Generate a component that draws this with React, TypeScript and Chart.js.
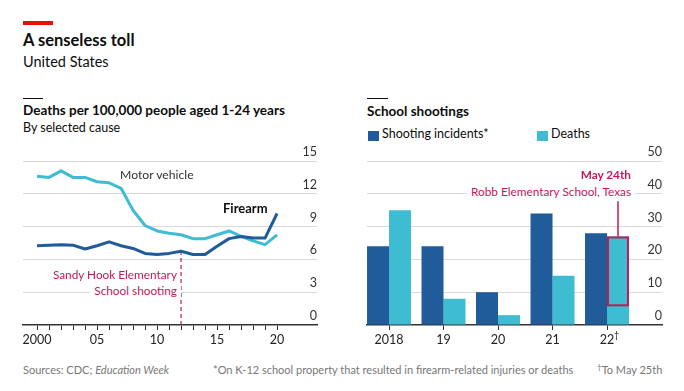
import React, { useEffect, useRef } from 'react';
import { Chart, registerables } from 'chart.js';

Chart.register(...registerables);

// ---- Data ----
const years = [2000, 2001, 2002, 2003, 2004, 2005, 2006, 2007, 2008, 2009, 2010, 2011, 2012, 2013, 2014, 2015, 2016, 2017, 2018, 2019, 2020];
const motorVehicle = [13.6, 13.5, 14.1, 13.5, 13.5, 13.1, 13.0, 12.5, 10.5, 9.1, 8.6, 8.4, 8.25, 7.9, 7.9, 8.25, 8.6, 8.1, 7.7, 7.35, 8.25];
const firearm = [7.25, 7.3, 7.35, 7.3, 6.95, 7.25, 7.6, 7.25, 7.0, 6.55, 6.45, 6.55, 6.75, 6.45, 6.45, 7.2, 7.9, 8.1, 7.95, 7.95, 10.2];
const leftYTicks = [0, 3, 6, 9, 12, 15];
const leftXLabelYears = [2000, 2005, 2010, 2015, 2020];
const leftXLabels = ['2000', '05', '10', '15', '20'];
const sandyHookYear = 2012;

const schoolYears = [2018, 2019, 2020, 2021, 2022];
const schoolYearLabels = ['2018', '19', '20', '21', '22'];
const incidents = [24, 24, 10, 34, 28];
const deaths = [35, 8, 3, 15, 27];
const robbDeaths = 21; // highlighted part of the 2022 deaths bar
const rightYTicks = [0, 10, 20, 30, 40, 50];

// ---- Styles ----
const FONT = "Lato, 'Noto Sans', sans-serif";
const DARK = '#1f5c99';
const LIGHT = '#3ebcd2';
const CRIMSON = '#c3185a';
const GRID = '#d9d9d9';
const AXIS = '#333333';

const sandyHookPlugin = {
  id: 'sandyHook',
  afterDatasetsDraw(chart: any) {
    const { ctx, scales } = chart;
    const x = scales.x.getPixelForValue(sandyHookYear);
    const idx = years.indexOf(sandyHookYear);
    const yTop = scales.y.getPixelForValue(firearm[idx]);
    const yBot = scales.y.getPixelForValue(0);
    ctx.save();
    ctx.strokeStyle = CRIMSON;
    ctx.lineWidth = 1.2;
    ctx.setLineDash([4, 3]);
    ctx.beginPath();
    ctx.moveTo(x, yBot);
    ctx.lineTo(x, yTop + 2);
    ctx.stroke();
    ctx.restore();
  },
};

const robbPlugin = {
  id: 'robb',
  afterDatasetsDraw(chart: any) {
    const { ctx, scales } = chart;
    const bar = chart.getDatasetMeta(1).data[4];
    const { x, width } = bar.getProps(['x', 'width'], true);
    const top = scales.y.getPixelForValue(deaths[4]);
    const bottom = scales.y.getPixelForValue(deaths[4] - robbDeaths);
    ctx.save();
    ctx.strokeStyle = CRIMSON;
    ctx.lineWidth = 2;
    ctx.strokeRect(x - width / 2 + 1, top + 1, width - 2, bottom - top - 1);
    ctx.lineWidth = 1.5;
    ctx.beginPath();
    ctx.moveTo(x, scales.y.getPixelForValue(37.7));
    ctx.lineTo(x, top);
    ctx.stroke();
    ctx.restore();
  },
};

function yAxis(max: number, ticks: number[]) {
  return {
    position: 'right',
    min: 0,
    max,
    afterBuildTicks: (s: any) => {
      s.ticks = ticks.map((v) => ({ value: v }));
    },
    afterFit: (s: any) => {
      s.width = 0;
    },
    grid: {
      color: (c: any) => (c.tick && c.tick.value === 0 ? 'rgba(0,0,0,0)' : GRID),
      drawTicks: false,
      lineWidth: 1,
    },
    border: { display: false },
    ticks: {
      mirror: true,
      padding: 0,
      labelOffset: -9,
      color: '#333',
      font: { family: FONT, size: 12.5 },
    },
  };
}

function LeftChart() {
  const ref = useRef<HTMLCanvasElement>(null);
  useEffect(() => {
    const chart = new Chart(ref.current as HTMLCanvasElement, {
      type: 'line',
      data: {
        datasets: [
          {
            label: 'Firearm',
            data: years.map((y, i) => ({ x: y, y: firearm[i] })),
            borderColor: DARK,
            borderWidth: 3,
            pointRadius: 0,
            tension: 0,
            borderJoinStyle: 'round',
          },
          {
            label: 'Motor vehicle',
            data: years.map((y, i) => ({ x: y, y: motorVehicle[i] })),
            borderColor: LIGHT,
            borderWidth: 3,
            pointRadius: 0,
            tension: 0,
            borderJoinStyle: 'round',
          },
        ],
      },
      options: {
        responsive: false,
        maintainAspectRatio: false,
        animation: false,
        layout: { padding: { left: 23, right: 23, top: 21, bottom: 0 } },
        plugins: { legend: { display: false }, tooltip: { enabled: false } },
        scales: {
          x: {
            type: 'linear',
            min: 1998.83,
            max: 2023.33,
            offset: false,
            afterBuildTicks: (s: any) => {
              s.ticks = years.map((v) => ({ value: v }));
            },
            afterFit: (s: any) => {
              s.height = 30;
            },
            grid: { drawOnChartArea: false, drawTicks: true, tickLength: 5, tickColor: AXIS, tickWidth: 1 },
            border: { display: true, color: AXIS, width: 1.5 },
            ticks: {
              autoSkip: false,
              maxRotation: 0,
              padding: 2,
              color: '#222',
              font: { family: FONT, size: 12.5 },
              callback: (v: any) => {
                const i = leftXLabelYears.indexOf(Number(v));
                return i >= 0 ? leftXLabels[i] : '';
              },
            },
          },
          y: yAxis(15, leftYTicks) as any,
        },
      },
      plugins: [sandyHookPlugin],
    } as any);
    return () => chart.destroy();
  }, []);
  return <canvas ref={ref} width={340} height={215} style={{ position: 'absolute', left: 0, top: 140, width: 340, height: 215 }} />;
}

function RightChart() {
  const ref = useRef<HTMLCanvasElement>(null);
  useEffect(() => {
    const chart = new Chart(ref.current as HTMLCanvasElement, {
      type: 'bar',
      data: {
        datasets: [
          {
            label: 'Shooting incidents*',
            data: schoolYears.map((y, i) => ({ x: y, y: incidents[i] })),
            backgroundColor: DARK,
            borderWidth: 0,
            categoryPercentage: 0.807,
            barPercentage: 1,
          },
          {
            label: 'Deaths',
            data: schoolYears.map((y, i) => ({ x: y, y: deaths[i] })),
            backgroundColor: LIGHT,
            borderWidth: 0,
            categoryPercentage: 0.807,
            barPercentage: 1,
          },
        ],
      },
      options: {
        responsive: false,
        maintainAspectRatio: false,
        animation: false,
        layout: { padding: { left: 27, right: 22, top: 21, bottom: 0 } },
        plugins: { legend: { display: false }, tooltip: { enabled: false } },
        scales: {
          x: {
            type: 'linear',
            min: 2017.596,
            max: 2023.009,
            offset: false,
            afterBuildTicks: (s: any) => {
              s.ticks = schoolYears.map((v) => ({ value: v }));
            },
            afterFit: (s: any) => {
              s.height = 30;
            },
            grid: { offset: false, drawOnChartArea: false, drawTicks: true, tickLength: 5, tickColor: AXIS, tickWidth: 1 },
            border: { display: true, color: AXIS, width: 1.5 },
            ticks: {
              autoSkip: false,
              maxRotation: 0,
              padding: 2,
              color: '#222',
              font: { family: FONT, size: 12.5 },
              callback: (v: any) => {
                const i = schoolYears.indexOf(Number(v));
                return i >= 0 ? schoolYearLabels[i] : '';
              },
            },
          },
          y: yAxis(50, rightYTicks) as any,
        },
      },
      plugins: [robbPlugin],
    } as any);
    return () => chart.destroy();
  }, []);
  return <canvas ref={ref} width={344} height={215} style={{ position: 'absolute', left: 340, top: 140, width: 344, height: 215 }} />;
}

function T(props: { x: number; cy: number; size: number; weight?: number; color?: string; align?: 'left' | 'right'; bg?: boolean; italic?: boolean; children: any }) {
  const h = Math.round(props.size * 1.3);
  const style: any = {
    position: 'absolute',
    top: props.cy - h / 2,
    height: h,
    lineHeight: h + 'px',
    fontSize: props.size,
    fontWeight: props.weight || 400,
    color: props.color || '#0d0d0d',
    whiteSpace: 'nowrap',
    fontFamily: FONT,
    fontStyle: props.italic ? 'italic' : 'normal',
  };
  if (props.align === 'right') {
    style.right = 684 - props.x;
  } else {
    style.left = props.x;
  }
  if (props.bg) {
    style.background = '#fff';
    style.padding = '0 4px';
    if (props.align === 'right') style.right = 684 - props.x - 4;
    else style.left = props.x - 4;
  }
  return <div style={style}>{props.children}</div>;
}

export default function App() {
  return (
    <div style={{ position: 'fixed', left: 0, top: 0, width: 684, height: 391, background: '#fff', overflow: 'hidden', fontFamily: FONT }}>
      <div style={{ position: 'absolute', left: 23, top: 21, width: 30, height: 3.5, background: '#e3120b' }} />
      <T x={23} cy={40} size={16.5} weight={700}>A senseless toll</T>
      <T x={23} cy={61} size={14.5}>United States</T>

      <div style={{ position: 'absolute', left: 23, top: 98, width: 20, height: 1, background: '#0d0d0d' }} />
      <T x={23} cy={110} size={13.5} weight={700}>Deaths per 100,000 people aged 1-24 years</T>
      <T x={23} cy={128} size={12.5}>By selected cause</T>

      <div style={{ position: 'absolute', left: 367, top: 98, width: 21, height: 1, background: '#0d0d0d' }} />
      <T x={367} cy={111} size={13.5} weight={700}>School shootings</T>
      <div style={{ position: 'absolute', left: 368, top: 131, width: 11, height: 10, background: DARK }} />
      <T x={382} cy={134} size={12.5}>Shooting incidents*</T>
      <div style={{ position: 'absolute', left: 537, top: 131, width: 11, height: 10, background: LIGHT }} />
      <T x={551} cy={134} size={12.5}>Deaths</T>

      <LeftChart />
      <RightChart />

      <T x={120} cy={175} size={12.2} color="#333">Motor vehicle</T>
      <T x={223} cy={208} size={13} weight={700}>Firearm</T>
      <T x={177} cy={274} size={11.8} color={CRIMSON} align="right">Sandy Hook Elementary</T>
      <T x={177} cy={290} size={11.8} color={CRIMSON} align="right" bg>School shooting</T>

      <T x={631} cy={174} size={11.8} color={CRIMSON} align="right" weight={700}>May 24th</T>
      <T x={631} cy={191} size={11.8} color={CRIMSON} align="right" bg>Robb Elementary School, Texas</T>

      <T x={614} cy={335} size={9} color="#222">†</T>

      <T x={23} cy={370} size={11} color="#777">Sources: CDC; <i>Education Week</i></T>
      <T x={213} cy={370} size={11} color="#777">*On K-12 school property that resulted in firearm-related injuries or deaths</T>
      <T x={597} cy={370} size={11} color="#777"><sup style={{ fontSize: 8, verticalAlign: 'top', lineHeight: '10px', position: 'relative', top: -1 }}>†</sup>To May 25th</T>
    </div>
  );
}
